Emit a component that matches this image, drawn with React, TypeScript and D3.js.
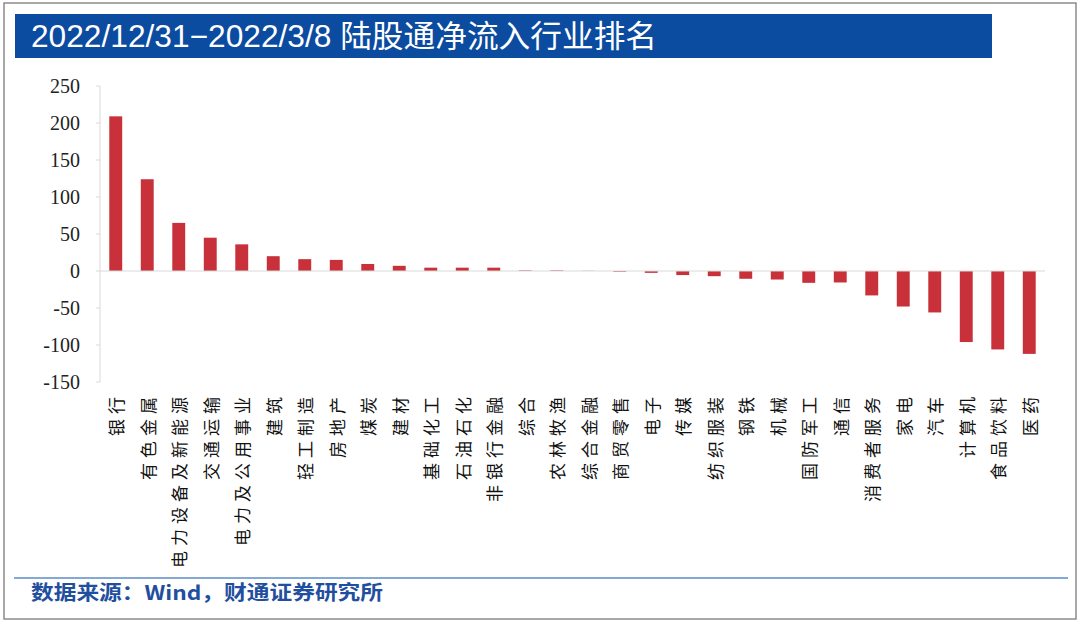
import React from "react";
import * as d3 from "d3";

const categories = [
  "银行", "有色金属", "电力设备及新能源", "交通运输", "电力及公用事业", "建筑",
  "轻工制造", "房地产", "煤炭", "建材", "基础化工", "石油石化", "非银行金融",
  "综合", "农林牧渔", "综合金融", "商贸零售", "电子", "传媒", "纺织服装",
  "钢铁", "机械", "国防军工", "通信", "消费者服务", "家电", "汽车", "计算机",
  "食品饮料", "医药",
];
const values = [
  209, 124, 65, 45, 36, 20,
  16, 15, 9.5, 7, 4.5, 4.5, 4.5,
  0.8, 0.8, 0.2, -1, -2.5, -5.5, -7,
  -10.5, -11.5, -16, -15.5, -33, -48, -56, -96,
  -106, -112,
];
const yTicks = [250, 200, 150, 100, 50, 0, -50, -100, -150];

const W = 1080;
const H = 625;

export default function App() {
  const x = d3
    .scaleBand<string>()
    .domain(categories)
    .range([100, 1045])
    .paddingInner(0.59)
    .paddingOuter(0.295);
  const y = d3.scaleLinear().domain([-150, 250]).range([382, 86]);

  return (
    <svg
      width={W}
      height={H}
      style={{ position: "absolute", left: 0, top: 0, background: "#fff" }}
    >
      <rect x={0} y={0} width={W} height={H} fill="#fff" />
      {/* outer frame */}
      <rect x={4} y={3} width={1072} height={616} fill="none" stroke="#8c8c8c" strokeWidth={1.5} />
      {/* title bar */}
      <rect x={15} y={14} width={977} height={44} fill="#0b4ba0" />
      <text
        x={31}
        y={47}
        fill="#fff"
        fontSize={31}
        fontFamily="'Liberation Sans', Arial, 'Noto Sans CJK SC', sans-serif"
        textLength={626}
        lengthAdjust="spacingAndGlyphs"
      >
        2022/12/31−2022/3/8 陆股通净流入行业排名
      </text>

      {/* y axis */}
      <line x1={100} x2={100} y1={y(250)} y2={y(-150)} stroke="#d9d9d9" strokeWidth={1} />
      {yTicks.map((t) => (
        <g key={t}>
          <line x1={96} x2={100} y1={y(t)} y2={y(t)} stroke="#d9d9d9" strokeWidth={1} />
          <text
            x={80}
            y={y(t)}
            textAnchor="end"
            dominantBaseline="central"
            fontSize={20}
            fontFamily="'Liberation Serif', 'Times New Roman', serif"
            fill="#222"
          >
            {String(t)}
          </text>
        </g>
      ))}

      {/* bars */}
      {categories.map((c, i) => {
        const v = values[i];
        const y0 = y(0);
        const yv = y(v);
        return (
          <rect
            key={c}
            x={x(c)}
            width={x.bandwidth()}
            y={Math.min(y0, yv)}
            height={Math.abs(yv - y0)}
            fill="#c8303a"
          />
        );
      })}

      {/* zero line */}
      <line x1={100} x2={1045} y1={y(0)} y2={y(0)} stroke="#d9d9d9" strokeWidth={1} />

      {/* category labels */}
      {categories.map((c) => {
        const cx = (x(c) as number) + x.bandwidth() / 2;
        return (
          <text
            key={c}
            transform={`translate(${cx},392) rotate(-90)`}
            textAnchor="end"
            dominantBaseline="central"
            fontSize={17}
            letterSpacing={5}
            fontFamily="'Noto Sans CJK SC', sans-serif"
            fill="#111"
          >
            {c}
          </text>
        );
      })}

      {/* footer */}
      <line x1={14} x2={1068} y1={578} y2={578} stroke="#5b8cc8" strokeWidth={1.5} />
      <text
        x={31}
        y={600}
        fill="#1f4f9e"
        fontSize={20}
        fontWeight="bold"
        fontFamily="'Noto Sans CJK SC', 'Liberation Sans', sans-serif"
        textLength={352}
        lengthAdjust="spacingAndGlyphs"
      >
        数据来源：Wind，财通证券研究所
      </text>
    </svg>
  );
}
